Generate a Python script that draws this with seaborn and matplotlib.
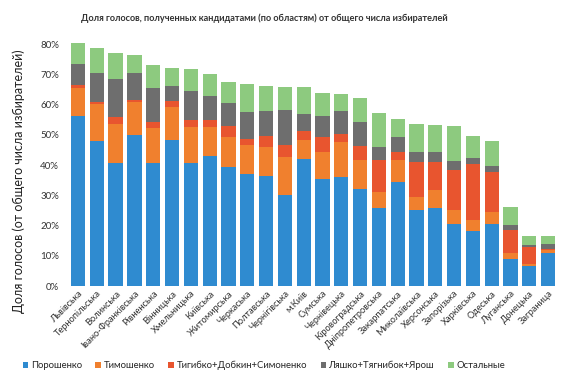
import numpy as np
import pandas as pd
import matplotlib
matplotlib.use("Agg")
import matplotlib.pyplot as plt
import seaborn as sns
from matplotlib.patches import Patch

regions = ["Львівська", "Тернопільська", "Волинська", "Івано-Франківська", "Рівненська",
           "Вінницька", "Хмельницька", "Київська", "Житомирська", "Черкаська",
           "Полтавська", "Чернігівська", "м.Київ", "Сумська", "Чернівецька",
           "Кіровоградська", "Дніпропетровська", "Закарпатська", "Миколаївська",
           "Херсонська", "Запорізька", "Харківська", "Одеська", "Луганська",
           "Донецька", "Заграница"]

poroshenko = [56.4, 47.9, 40.6, 50.0, 40.7, 48.4, 40.6, 43.2, 39.5, 37.0, 36.4, 30.0, 42.1,
              35.5, 36.1, 32.2, 25.8, 34.4, 25.1, 26.0, 20.7, 18.3, 20.7, 9.1, 6.6, 10.8]
tymoshenko = [9.2, 12.5, 13.1, 10.8, 11.5, 10.8, 12.0, 9.4, 10.0, 9.7, 9.6, 12.7, 6.1,
              8.8, 11.6, 9.4, 5.3, 7.2, 4.4, 5.7, 4.4, 3.5, 3.8, 1.7, 0.7, 1.1]
tihipko = [0.8, 0.5, 2.2, 0.8, 2.0, 2.2, 2.3, 2.3, 3.5, 2.0, 3.8, 4.0, 3.0,
           5.2, 2.7, 4.6, 10.7, 2.7, 11.6, 9.4, 13.2, 18.5, 13.2, 7.7, 5.7, 0.5]
lyashko = [7.0, 9.6, 12.6, 8.8, 11.2, 4.8, 9.8, 8.1, 7.6, 8.9, 8.3, 11.6, 5.8,
           6.9, 7.7, 8.0, 4.2, 5.2, 3.2, 3.2, 3.1, 2.2, 1.9, 1.6, 0.5, 1.7]
others = [7.1, 8.3, 8.5, 6.2, 7.6, 5.8, 7.0, 7.2, 7.0, 9.4, 8.1, 7.7, 8.8,
          7.6, 5.6, 8.1, 11.3, 5.8, 9.2, 9.0, 11.5, 7.3, 8.5, 6.0, 3.2, 2.6]

series_names = ["Порошенко", "Тимошенко", "Тигибко+Добкин+Симоненко",
                "Ляшко+Тягнибок+Ярош", "Остальные"]
series_vals = [poroshenko, tymoshenko, tihipko, lyashko, others]
colors = ["#2f8bd0", "#f0802e", "#e8552f", "#6e6e6e", "#8dca7f"]
y_ticks = [0, 10, 20, 30, 40, 50, 60, 70, 80]

sns.set_theme(style="white")
plt.rcParams['font.family'] = ['Lato', 'DejaVu Sans']

fig = plt.figure(figsize=(5.8, 3.79), dpi=100)
ax = fig.add_axes([0.1183, 0.245, 0.843, 0.678])

bottom = np.zeros(len(regions))
for name, vals, col in zip(series_names, series_vals, colors):
    df = pd.DataFrame({"region": regions, "value": vals})
    sns.barplot(data=df, x="region", y="value", color=col, bottom=bottom,
                width=0.76, ax=ax, saturation=1, linewidth=0, errorbar=None)
    bottom = bottom + np.array(vals)

ax.set_ylim(0, 85)
ax.set_xlim(-0.5, len(regions) - 0.5)
ax.set_yticks(y_ticks)
ax.set_yticklabels([f"{t}%" for t in y_ticks], fontsize=7, color="#333333")
ax.set_xticks(range(len(regions)))
ax.set_xticklabels(regions, rotation=45, ha="right", rotation_mode="anchor",
                   fontsize=6.7, color="#333333")
ax.tick_params(axis="y", length=0, pad=7)
ax.tick_params(axis="x", length=0, pad=2)
ax.set_xlabel("")
ax.set_ylabel("Доля голосов (от общего числа избирателей)", fontsize=9, color="#222222")
ax.yaxis.set_label_coords(-0.09, 0.41)
for s in ax.spines.values():
    s.set_visible(False)

fig.suptitle("Доля голосов, полученных кандидатами (по областям) от общего числа избирателей",
             fontsize=6.6, fontweight="bold", color="#333333", y=0.965, x=0.455)

handles = [Patch(facecolor=c, edgecolor="none") for c in colors]
fig.legend(handles, series_names, loc="center", bbox_to_anchor=(0.455, 0.035), ncol=5,
           frameon=False, fontsize=6.8, handlelength=0.6, handleheight=0.6,
           handletextpad=0.3, columnspacing=1.4)

fig.savefig("out.png", dpi=100)
